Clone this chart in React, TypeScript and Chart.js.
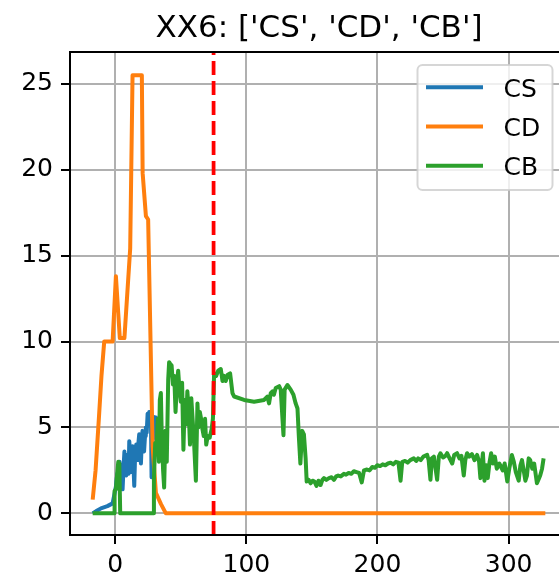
import React, { useEffect, useRef } from "react";
import { Chart, registerables } from "chart.js";

Chart.register(...registerables);

const chartTitle = "XX6: ['CS', 'CD', 'CB']";
const seriesNames = ["CS", "CD", "CB"];
const seriesColors = ["#1f77b4", "#ff7f0e", "#2ca02c"];
const xTicks = [0, 100, 200, 300];
const yTicks = [0, 5, 10, 15, 20, 25];
const markerX = 75;

const csX = [-17.2, -14, -10.9, -6, -2, 0.5, 1.5, 2.5, 3.3, 4, 4.8, 5.6, 6.3, 7, 7.7, 8.3, 9, 9.5, 10.2, 10.7, 11.4, 12, 12.6, 13.2, 13.8, 14.5, 15.2, 16, 16.6, 17.2, 17.8, 18.3, 19, 19.6, 20.2, 20.8, 21.4, 22, 22.7, 23.3, 24, 24.7, 25.3, 25.9, 26.5, 27.2, 27.7, 28.3, 28.9, 29.6, 30.3, 31];
const csY = [0, 0.15, 0.29, 0.42, 0.58, 1.55, 2.3, 1.8, 3.0, 2.2, 2.8, 1.4, 2.6, 3.6, 2.5, 2.2, 3.4, 3.1, 2.3, 4.2, 3.5, 2.4, 3.3, 3.9, 3.0, 1.6, 3.5, 4.0, 3.4, 3.1, 4.2, 4.6, 3.8, 2.9, 4.1, 4.8, 4.0, 3.6, 4.5, 5.0, 4.7, 5.8, 5.5, 5.9, 5.6, 5.9, 2.1, 3.5, 4.9, 4.4, 5.5, 5.7];

const cdX = [-17.2, -15, -12.5, -10.5, -8.4, -2, 0.5, 3.5, 7, 11.4, 13.2, 20.3, 20.9, 23.4, 25.1, 28.5, 31, 34.8, 38.6, 328];
const cdY = [0.8, 2.5, 5.5, 8, 10, 10, 13.8, 10.2, 10.2, 15.4, 25.5, 25.5, 19.8, 17.3, 17.1, 3.9, 1.2, 0.55, 0, 0];

const cbX = [-17.2, -0.8, -0.5, 0.5, 2.3, 3.1, 3.8, 29.2, 29.5, 30.5, 31.5, 32.5, 33.3, 34, 34.8, 35.5, 36.5, 37.3, 38.3, 39.3, 40.4, 41.1, 42, 43, 44, 45, 46, 47, 48, 49, 50, 51, 52, 53, 54, 55, 56, 57, 58, 59, 60, 61.5, 62.7, 63.5, 64.5, 65.5, 66.5, 67.5, 68.5, 69.4, 70.5, 72, 73.5, 74.5,
  75.4, 77, 78.5, 80.5, 81.8, 83, 84.3, 85.6, 87.6, 89.4, 90.7, 98.3, 105.9, 113.5, 116, 117.3, 118.6, 119.9, 121, 122.4, 125, 126.2, 128.3, 129.2, 131.3, 133.8, 135.9, 137.6, 139, 140, 141.2, 142.6, 143.9, 145.2,
  146, 147.5, 149, 150.5, 152, 153.5, 155, 156.6, 158, 159.2, 161, 163, 165, 166.8, 168.5, 170, 172, 174.4, 176, 178, 180, 182, 184, 186, 188, 189.7, 192, 194, 196, 198, 199.9, 202, 204, 206, 208, 210, 212, 214, 216, 217.6, 218.9, 221, 223, 225, 227.7, 229.5, 231, 233, 235, 237.9, 239, 240.4, 241.5, 243, 244.3, 245.5, 246.8, 248, 250, 251.9, 253.1, 255, 257, 258.5, 260.7, 262.5, 264, 265.8, 267, 268.3, 270, 272, 274, 276, 277.5, 278.5, 280.4, 281.6, 283, 284.1, 285.5, 286.7, 288, 289.5, 291, 293, 295.5, 297, 299, 300.5, 302.5, 304, 305.5, 307.7, 309, 310.2, 311.5, 312.8, 314, 315.3, 316.5, 318, 319.5, 321.6, 323, 324.1, 325.5, 326.7];
const cbY = [0, 0, 1.3, 1.4, 3.0, 2.9, 0, 0, 2.0, 4.1, 3.8, 5.5, 3.0, 6.6, 7.0, 4.5, 2.5, 1.5, 4.8, 3.0, 7.8, 8.8, 8.7, 8.6, 7.5, 8.0, 5.9, 7.5, 8.3, 7.2, 6.5, 7.6, 3.7, 6.6, 5.2, 7.1, 6.0, 4.0, 6.7, 5.5, 4.3, 1.9, 6.4, 5.0, 5.9, 5.5, 4.9, 4.5, 5.5, 4.0, 4.5, 4.4, 4.9, 5.5,
  8.15, 8.0, 8.3, 8.4, 7.7, 8.0, 7.7, 8.05, 8.15, 7.0, 6.8, 6.6, 6.5, 6.6, 6.8, 6.4, 7.0, 7.1, 6.9, 7.3, 7.4, 7.2, 4.55, 7.2, 7.47, 7.2, 6.9, 6.4, 6.1, 4.5, 2.9, 4.8, 4.6, 3.2,
  1.85, 1.95, 1.75, 1.9, 1.85, 1.6, 1.9, 1.65, 1.95, 2.05, 1.95, 2.05, 2.1, 1.95, 2.15, 2.2, 2.15, 2.3, 2.25, 2.35, 2.3, 2.45, 2.4, 2.35, 1.8, 2.5, 2.55, 2.5, 2.7, 2.65, 2.8, 2.75, 2.85, 2.8, 2.9, 2.95, 2.85, 3.0, 2.95, 1.9, 3.0, 3.05, 2.95, 3.1, 3.2, 3.05, 3.2, 3.1, 3.3, 3.4, 3.1, 1.95, 3.2, 3.3, 2.6, 1.95, 3.3, 3.5, 3.25, 3.35, 3.5, 3.2, 2.9, 3.4, 3.5, 3.2, 3.35, 2.2, 3.1, 3.5, 3.3, 3.45, 3.1, 3.4, 3.0, 2.05, 3.5, 1.9, 2.8, 2.05, 3.0, 3.5, 2.9, 3.3, 2.6, 2.9, 2.5, 2.9, 1.85, 2.6, 3.4, 3.0, 2.4, 1.9, 2.8, 3.1, 2.5, 1.9, 2.2, 3.2, 3.1, 2.6, 2.9, 1.75, 2.0, 2.2, 2.6, 3.2];

const FONT = "'DejaVu Sans', sans-serif";
const CANVAS_W = 600;
const CANVAS_H = 585;
const AREA = { left: 70, top: 52, right: 568, bottom: 535 };

const toPoints = (xs: number[], ys: number[]) => xs.map((x, i) => ({ x, y: ys[i] }));

const decorPlugin = {
  id: "decor",
  afterDatasetsDraw(chart: any) {
    const { ctx, chartArea, scales } = chart;
    ctx.save();
    const vx = scales.x.getPixelForValue(markerX);
    ctx.beginPath();
    ctx.rect(chartArea.left, chartArea.top, chartArea.right - chartArea.left, chartArea.bottom - chartArea.top);
    ctx.clip();
    ctx.strokeStyle = "#ff0000";
    ctx.lineWidth = 3.75;
    ctx.setLineDash([14, 6]);
    ctx.beginPath();
    ctx.moveTo(vx, chartArea.bottom);
    ctx.lineTo(vx, chartArea.top);
    ctx.stroke();
    ctx.restore();

    ctx.save();
    ctx.strokeStyle = "#000";
    ctx.lineWidth = 2;
    ctx.strokeRect(chartArea.left, chartArea.top, chartArea.right - chartArea.left, chartArea.bottom - chartArea.top);
    ctx.restore();

    ctx.save();
    const bx = 417.5, by = 65, bw = 135, bh = 125, r = 5;
    ctx.beginPath();
    ctx.moveTo(bx + r, by);
    ctx.lineTo(bx + bw - r, by);
    ctx.arcTo(bx + bw, by, bx + bw, by + r, r);
    ctx.lineTo(bx + bw, by + bh - r);
    ctx.arcTo(bx + bw, by + bh, bx + bw - r, by + bh, r);
    ctx.lineTo(bx + r, by + bh);
    ctx.arcTo(bx, by + bh, bx, by + bh - r, r);
    ctx.lineTo(bx, by + r);
    ctx.arcTo(bx, by, bx + r, by, r);
    ctx.closePath();
    ctx.fillStyle = "rgba(255,255,255,0.8)";
    ctx.fill();
    ctx.strokeStyle = "rgba(204,204,204,0.8)";
    ctx.lineWidth = 2;
    ctx.stroke();
    ctx.font = `25px ${FONT}`;
    ctx.textAlign = "left";
    ctx.textBaseline = "alphabetic";
    seriesNames.forEach((name, i) => {
      const ly = 87.3 + i * 39.2;
      ctx.strokeStyle = seriesColors[i];
      ctx.lineWidth = 4;
      ctx.beginPath();
      ctx.moveTo(426, ly);
      ctx.lineTo(483, ly);
      ctx.stroke();
      ctx.fillStyle = "#000";
      ctx.fillText(name, 503.5, ly + 9.3);
    });
    ctx.restore();

    ctx.save();
    ctx.font = `31px ${FONT}`;
    ctx.fillStyle = "#000";
    ctx.textAlign = "center";
    ctx.textBaseline = "alphabetic";
    ctx.fillText(chartTitle, (chartArea.left + chartArea.right) / 2, 36.7);
    ctx.restore();
  },
};

export default function App() {
  const ref = useRef<HTMLCanvasElement | null>(null);
  useEffect(() => {
    if (!ref.current) return;
    const seriesX = [csX, cdX, cbX];
    const seriesY = [csY, cdY, cbY];
    const datasets = seriesNames.map((name, i) => ({
      label: name,
      data: toPoints(seriesX[i], seriesY[i]),
      borderColor: seriesColors[i],
      backgroundColor: seriesColors[i],
      borderWidth: 4,
      pointRadius: 0,
      tension: 0,
      borderJoinStyle: "round" as const,
      fill: false,
      order: 3 - i,
    }));
    const chart = new Chart(ref.current, {
      type: "line",
      data: { datasets },
      options: {
        animation: false,
        responsive: false,
        maintainAspectRatio: false,
        devicePixelRatio: 1,
        layout: { padding: { left: 0, top: AREA.top, right: CANVAS_W - AREA.right, bottom: 0 } },
        plugins: { legend: { display: false }, title: { display: false }, tooltip: { enabled: false } },
        scales: {
          x: {
            type: "linear",
            min: -34.5,
            max: 345.3,
            afterBuildTicks: (s: any) => { s.ticks = xTicks.map((v) => ({ value: v })); },
            afterFit: (s: any) => { s.height = CANVAS_H - AREA.bottom; },
            ticks: { font: { family: FONT, size: 25 }, color: "#000", padding: 6, maxRotation: 0, autoSkip: false },
            grid: { color: "#b0b0b0", lineWidth: 2, tickColor: "#000", tickLength: 9, tickWidth: 2 },
            border: { display: false },
          },
          y: {
            type: "linear",
            min: -1.26,
            max: 26.85,
            afterBuildTicks: (s: any) => { s.ticks = yTicks.map((v) => ({ value: v })); },
            afterFit: (s: any) => { s.width = AREA.left; },
            ticks: { font: { family: FONT, size: 25 }, color: "#000", padding: 8 },
            grid: { color: "#b0b0b0", lineWidth: 2, tickColor: "#000", tickLength: 9, tickWidth: 2 },
            border: { display: false },
          },
        },
      },
      plugins: [decorPlugin],
    });
    return () => chart.destroy();
  }, []);
  return (
    <div style={{ position: "absolute", left: 0, top: 0, width: 559, height: 585, overflow: "hidden", background: "#fff" }}>
      <canvas ref={ref} width={CANVAS_W} height={CANVAS_H} style={{ width: CANVAS_W, height: CANVAS_H, display: "block" }} />
    </div>
  );
}
